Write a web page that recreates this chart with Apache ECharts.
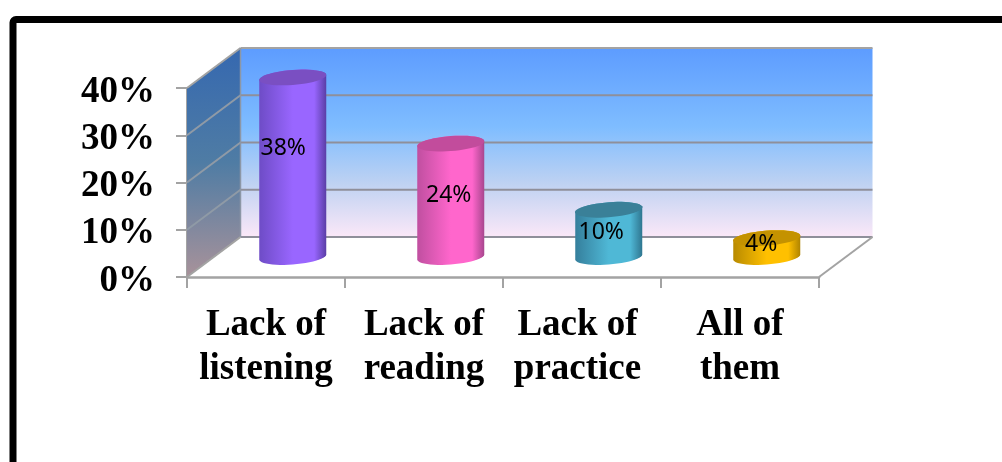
<!DOCTYPE html>
<html>
<head>
<meta charset="utf-8">
<style>html,body{margin:0;padding:0;background:#fff;overflow:hidden}#c{width:1002px;height:462px}</style>
<script src="https://cdn.jsdelivr.net/npm/echarts@6/dist/echarts.min.js"></script>
</head>
<body>
<div id="c"></div>
<script>
const categories = ['Lack of\nlistening', 'Lack of\nreading', 'Lack of\npractice', 'All of\nthem'];
const values = [38, 24, 10, 4];
const valueLabels = ['38%', '24%', '10%', '4%'];
const yTicks = [0, 10, 20, 30, 40];

const barColors = [
  {edgeL:'#6e4cc6', mid:'#9966ff', edgeR:'#5a3ea6', top:'#7a4fc2'},
  {edgeL:'#c04fa0', mid:'#ff66cc', edgeR:'#a8468e', top:'#c24c9c'},
  {edgeL:'#357f9c', mid:'#4fb8d6', edgeR:'#2f7690', top:'#3a8098'},
  {edgeL:'#b88a00', mid:'#ffc000', edgeR:'#b08400', top:'#c49200'}
];
const labelShift = [[-9.5,-19],[-2,-5],[-7.5,-1],[-5.5,-3]];
const DX = 53.5, DY = 40, RX = 33.5, RY = 7.5, SHEAR = 2.5;
const GRAY = '#a3a3a3', GRID = '#8f8f9a';

function arc(cx, cy, from, to, n) {
  const pts = [];
  for (let i = 0; i <= n; i++) {
    const t = from + (to - from) * i / n;
    pts.push([cx + RX * Math.cos(t), cy + RY * Math.sin(t) - SHEAR * Math.cos(t)]);
  }
  return pts;
}

function renderWalls(params, api) {
  const s = params.coordSys;
  const L = s.x, R = s.x + s.width, T = s.y, B = s.y + s.height;
  const lineStyle = (c, w) => ({stroke: c, lineWidth: w, fill: null});
  const kids = [
    {type:'polygon', shape:{points:[[L+DX,T-DY],[R+DX,T-DY],[R+DX,B-DY],[L+DX,B-DY]]},
     style:{fill:new echarts.graphic.LinearGradient(0,0,0,1,[
       {offset:0,color:'#5d9cff'},{offset:0.42,color:'#7fbdff'},
       {offset:0.72,color:'#bfd2f2'},{offset:1,color:'#fbe8f8'}])}},
    {type:'polygon', shape:{points:[[L,T],[L+DX,T-DY],[L+DX,B-DY],[L,B]]},
     style:{fill:new echarts.graphic.LinearGradient(0,0,0,1,[
       {offset:0,color:'#3568b0'},{offset:0.5,color:'#4f7ca4'},{offset:1,color:'#a8929a'}])}}
  ];
  yTicks.forEach(v => {
    const y = api.coord([0, v])[1];
    kids.push({type:'line', shape:{x1:L+DX, y1:y-DY, x2:R+DX, y2:y-DY},
      style:lineStyle(v===40 ? GRAY : GRID, 2.2)});
    if (v > 0) kids.push({type:'line', shape:{x1:L, y1:y, x2:L+DX, y2:y-DY},
      style:lineStyle(v===40 ? GRAY : '#8f9aa6', 2)});
  });
  kids.push({type:'line', shape:{x1:L, y1:B, x2:L+DX, y2:B-DY}, style:lineStyle(GRAY, 2)});
  kids.push({type:'line', shape:{x1:R, y1:B, x2:R+DX, y2:B-DY}, style:lineStyle(GRAY, 2)});
  kids.push({type:'line', shape:{x1:L+DX, y1:T-DY, x2:L+DX, y2:B-DY}, style:lineStyle('#8c97a6', 1.5)});
  return {type:'group', children:kids};
}

function renderBars(params, api) {
  const i = api.value(0), v = api.value(1);
  const base = api.coord([i, 0]), top = api.coord([i, v]);
  const cx = base[0] + DX / 2, by = base[1] - DY / 2, ty = top[1] - DY / 2;
  const c = barColors[i];
  const body = arc(cx, ty, Math.PI, 2*Math.PI, 24).concat(arc(cx, by, 0, Math.PI, 24));
  const shift = labelShift[i];
  return {type:'group', children:[
    {type:'polygon', shape:{points:body},
     style:{fill:new echarts.graphic.LinearGradient(0,0,1,0,[
       {offset:0,color:c.edgeL},{offset:0.5,color:c.mid},{offset:0.82,color:c.mid},{offset:1,color:c.edgeR}])}},
    {type:'polygon', shape:{points:arc(cx, ty, 0, 2*Math.PI, 48)}, style:{fill:c.top}},
    {type:'text', x:cx+shift[0], y:(ty+by)/2+shift[1],
     style:{text:valueLabels[i], fill:'#000', font:'23px "Noto Sans"', align:'center', verticalAlign:'middle'}}
  ]};
}

const xFont = {color:'#000', fontFamily:'Liberation Serif', fontWeight:'bold', fontSize:37, lineHeight:44};
const chart = echarts.init(document.getElementById('c'), null, {renderer:'canvas'});
chart.setOption({
  animation:false,
  backgroundColor:'#fff',
  graphic:[{type:'rect', z:100, shape:{x:13,y:19.5,width:1100,height:600,r:3},
    style:{fill:null, stroke:'#000', lineWidth:7}}],
  grid:{left:187, right:183, top:88, bottom:185},
  xAxis:{type:'category', data:categories,
    axisLine:{lineStyle:{color:GRAY, width:2.5}},
    axisTick:{show:true, length:11, lineStyle:{color:GRAY, width:2}},
    axisLabel:Object.assign({}, xFont, {margin:26, interval:0,
      formatter:(v,i)=> i===2 ? v.split('\n').map(t=>'{p|'+t+'}').join('\n') : v,
      rich:{p:Object.assign({}, xFont, {padding:[0,9,0,0]})}})},
  yAxis:{type:'value', min:0, max:40, interval:10,
    splitLine:{show:false},
    axisLine:{show:true, lineStyle:{color:GRAY, width:2}},
    axisTick:{show:true, length:11, lineStyle:{color:GRAY, width:2}},
    axisLabel:{margin:32, formatter:v=>'{a|'+v+'%}',
      rich:{a:{color:'#000', fontFamily:'Liberation Serif', fontWeight:'bold', fontSize:37, padding:[8,0,0,0]}}}},
  series:[
    {type:'custom', z:1, silent:true, clip:false, renderItem:renderWalls, data:[[0,0]]},
    {type:'custom', z:3, silent:true, clip:false, renderItem:renderBars,
     data:values.map((v,i)=>[i,v]), encode:{x:0,y:1}}
  ]
});
</script>
</body>
</html>
